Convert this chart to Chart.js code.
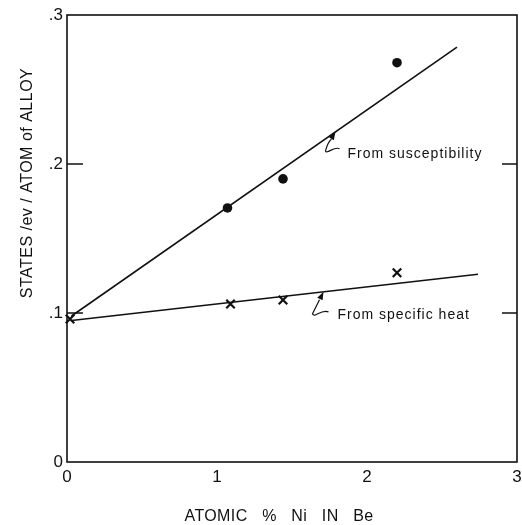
<!DOCTYPE html>
<html>
<head>
<meta charset="utf-8">
<script src="https://cdn.jsdelivr.net/npm/chart.js@4/dist/chart.umd.min.js"></script>
<style>
  html, body { margin: 0; padding: 0; background: #fff; }
  canvas { display: block; }
</style>
</head>
<body>
<canvas id="c" width="522" height="525"></canvas>
<script>
// ---- data ----
const suscX = [1.07, 1.44, 2.2];
const suscY = [0.1705, 0.190, 0.268];
const heatX = [0.02, 1.09, 1.44, 2.2];
const heatY = [0.096, 0.106, 0.1087, 0.127];
const suscFitX = [0.03, 2.6];
const suscFitY = [0.098, 0.2785];
const heatFitX = [0.03, 2.74];
const heatFitY = [0.095, 0.126];
const xTickValues = [0, 1, 2, 3];
const xTickLabels = ['0', '1', '2', '3'];
const yTickValues = [0, 0.1, 0.2, 0.3];
const yTickLabels = ['0', '.1', '.2', '.3'];
const xTitle = 'ATOMIC   %   Ni   IN   Be';
const yTitle = 'STATES /ev / ATOM of ALLOY';
const suscNote = 'From susceptibility';
const heatNote = 'From specific heat';

const INK = '#111';
const FONT = '"Liberation Sans", Arial, Helvetica, sans-serif';
const pts = (xs, ys) => xs.map((x, i) => ({ x: x, y: ys[i] }));

const decor = {
  id: 'decor',
  afterDraw(chart) {
    const ctx = chart.ctx, a = chart.chartArea;
    const xs = chart.scales.x, ys = chart.scales.y;
    ctx.save();
    // frame
    ctx.strokeStyle = INK; ctx.lineWidth = 1.6;
    ctx.strokeRect(a.left, a.top, a.right - a.left, a.bottom - a.top);
    // inward ticks on left and right at .1 and .2
    [0.1, 0.2].forEach(v => {
      const py = ys.getPixelForValue(v);
      ctx.beginPath();
      ctx.moveTo(a.left, py); ctx.lineTo(a.left + 16, py);
      ctx.moveTo(a.right, py); ctx.lineTo(a.right - 15, py);
      ctx.stroke();
    });
    // axis titles
    ctx.fillStyle = INK;
    ctx.textAlign = 'center'; ctx.textBaseline = 'middle';
    ctx.font = '16px ' + FONT;
    ctx.letterSpacing = '0.4px';
    ctx.fillText(xTitle, 279, 517);
    ctx.save();
    ctx.translate(28, 183);
    ctx.rotate(-Math.PI / 2);
    ctx.letterSpacing = '0.5px';
    ctx.fillText(yTitle, 0, 0);
    ctx.restore();

    // annotations
    function arrowHead(bx, by, tx, ty) {
      const ang = Math.atan2(ty - by, tx - bx);
      const L = 8, W = 3;
      ctx.beginPath();
      ctx.moveTo(tx, ty);
      ctx.lineTo(tx - L * Math.cos(ang) + W * Math.sin(ang), ty - L * Math.sin(ang) - W * Math.cos(ang));
      ctx.lineTo(tx - L * Math.cos(ang) - W * Math.sin(ang), ty - L * Math.sin(ang) + W * Math.cos(ang));
      ctx.closePath();
      ctx.fill();
    }
    ctx.lineWidth = 1.2;
    // susceptibility arrow: tip on the fitted line
    const sxv = 1.79;
    const syv = suscFitY[0] + (suscFitY[1] - suscFitY[0]) * (sxv - suscFitX[0]) / (suscFitX[1] - suscFitX[0]);
    const t1 = { x: xs.getPixelForValue(sxv), y: ys.getPixelForValue(syv) };
    ctx.beginPath();
    ctx.moveTo(t1.x + 4, t1.y + 17);
    ctx.bezierCurveTo(t1.x - 1, t1.y + 14, t1.x - 9, t1.y + 23, t1.x - 10, t1.y + 19);
    ctx.quadraticCurveTo(t1.x - 8, t1.y + 11, t1.x - 4, t1.y + 7);
    ctx.stroke();
    arrowHead(t1.x - 5, t1.y + 8, t1.x, t1.y);
    ctx.textAlign = 'left';
    ctx.font = '14px ' + FONT;
    ctx.letterSpacing = '1px';
    ctx.fillText(suscNote, t1.x + 12, t1.y + 22);

    // specific heat arrow
    const hxv = 1.71;
    const hyv = heatFitY[0] + (heatFitY[1] - heatFitY[0]) * (hxv - heatFitX[0]) / (heatFitX[1] - heatFitX[0]);
    const t2 = { x: xs.getPixelForValue(hxv), y: ys.getPixelForValue(hyv) };
    ctx.beginPath();
    ctx.moveTo(t2.x + 5, t2.y + 20);
    ctx.bezierCurveTo(t2.x - 3, t2.y + 17, t2.x - 9, t2.y + 27, t2.x - 11, t2.y + 22);
    ctx.lineTo(t2.x - 4, t2.y + 8);
    ctx.stroke();
    arrowHead(t2.x - 5, t2.y + 10, t2.x, t2.y);
    ctx.fillText(heatNote, t2.x + 14, t2.y + 23);
    ctx.restore();
  }
};

new Chart(document.getElementById('c'), {
  type: 'scatter',
  data: {
    datasets: [
      {
        type: 'line', data: pts(suscFitX, suscFitY), borderColor: INK, borderWidth: 1.6,
        pointRadius: 0, fill: false, tension: 0
      },
      {
        type: 'line', data: pts(heatFitX, heatFitY), borderColor: INK, borderWidth: 1.6,
        pointRadius: 0, fill: false, tension: 0
      },
      {
        data: pts(suscX, suscY), pointStyle: 'circle', pointRadius: 4.8,
        backgroundColor: INK, borderColor: INK, borderWidth: 0, clip: false
      },
      {
        data: pts(heatX, heatY), pointStyle: 'crossRot', pointRadius: 6,
        borderColor: INK, borderWidth: 2.2, clip: false
      }
    ]
  },
  options: {
    responsive: false,
    animation: false,
    devicePixelRatio: 1,
    layout: { autoPadding: false, padding: { left: 0, top: 15, right: 5, bottom: 0 } },
    plugins: { legend: { display: false }, tooltip: { enabled: false } },
    scales: {
      x: {
        type: 'linear', min: 0, max: 3,
        afterBuildTicks: s => { s.ticks = xTickValues.map(v => ({ value: v })); },
        afterFit: s => { s.height = 63; s.paddingLeft = 0; s.paddingRight = 0; },
        grid: { display: false, drawTicks: false },
        border: { display: false },
        ticks: {
          callback: (v, i) => xTickLabels[i], padding: 5, maxRotation: 0,
          color: INK, font: { family: FONT, size: 17 }
        }
      },
      y: {
        type: 'linear', min: 0, max: 0.3,
        afterBuildTicks: s => { s.ticks = yTickValues.map(v => ({ value: v })); },
        afterFit: s => { s.width = 67; s.paddingTop = 0; s.paddingBottom = 0; },
        grid: { display: false, drawTicks: false },
        border: { display: false },
        ticks: {
          callback: (v, i) => yTickLabels[i], padding: 4,
          color: INK, font: { family: FONT, size: 17 }
        }
      }
    }
  },
  plugins: [decor]
});
</script>
</body>
</html>
